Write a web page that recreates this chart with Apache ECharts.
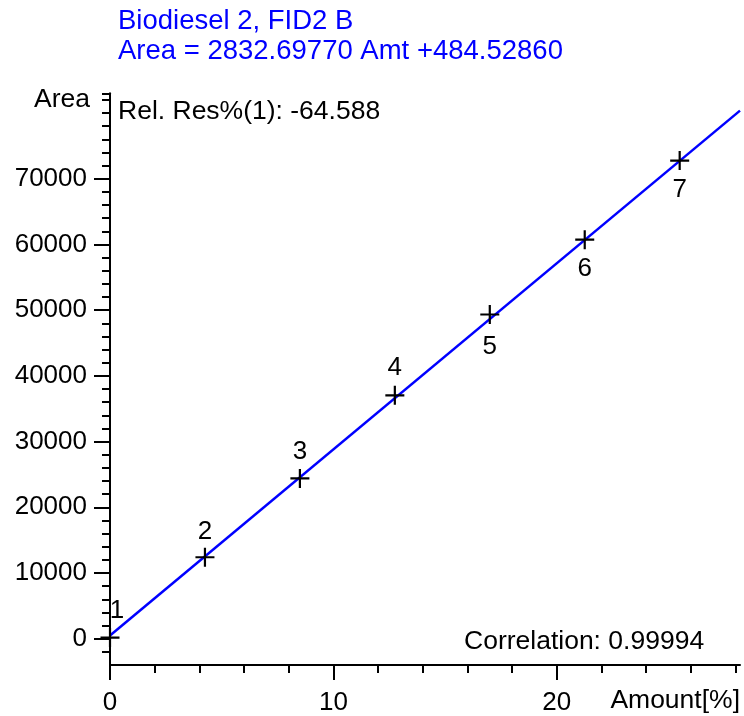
<!DOCTYPE html>
<html>
<head>
<meta charset="utf-8">
<script src="https://cdn.jsdelivr.net/npm/echarts@6/dist/echarts.min.js"></script>
<style>
html,body{margin:0;padding:0;background:#fff;}
#chart{width:744px;height:716px;}
</style>
</head>
<body>
<div id="chart"></div>
<script>
// ---- data ----
const pointIds = ['1', '2', '3', '4', '5', '6', '7'];
const amounts = [0, 4.25, 8.5, 12.75, 17.0, 21.25, 25.5];
const areas = [172, 12400, 24390, 37040, 49340, 60720, 72760];
const fitLineX = [0, 28.2];
const fitLineY = [484.5286, 80366.6];
const xTickLabels = [0, 10, 20];
const xMinorTicks = [2, 4, 6, 8, 12, 14, 16, 18, 22, 24, 26, 28];
const yTickLabels = [0, 10000, 20000, 30000, 40000, 50000, 60000, 70000];
const yMinorTicks = [-2000, 2000, 4000, 6000, 8000, 12000, 14000, 16000, 18000,
  22000, 24000, 26000, 28000, 32000, 34000, 36000, 38000, 42000, 44000, 46000, 48000,
  52000, 54000, 56000, 58000, 62000, 64000, 66000, 68000, 72000, 74000, 76000, 78000,
  80000, 82000, 83000];
const titleLines = ['Biodiesel 2, FID2 B', 'Area = 2832.69770 Amt +484.52860'];
const relResText = 'Rel. Res%(1): -64.588';
const corrText = 'Correlation: 0.99994';

const FONT = "'Liberation Sans', Arial, Helvetica, sans-serif";
const FS_AXIS = 26;
const FS_NOTE = 26.5;
const FS_TITLE = 27.5;

const chart = echarts.init(document.getElementById('chart'), null, {renderer: 'canvas'});

const labelOffsets = [[7, -27], [0, -25], [0, -27], [0, -27], [0, 32], [0, 29], [0, 29]];
const scatterData = amounts.map((a, i) => ({
  value: [a, areas[i]],
  name: pointIds[i],
  label: {
    show: true,
    position: 'inside',
    offset: labelOffsets[i],
    formatter: pointIds[i],
    color: '#000',
    fontFamily: FONT,
    fontSize: FS_AXIS
  }
}));

function textEl(str, pos, centerY, fs, color, align) {
  const el = {
    type: 'text',
    top: centerY - fs / 2 - 1,
    style: {text: str, fill: color, font: fs + 'px ' + FONT}
  };
  if (align === 'right') el.right = pos; else el.left = pos;
  return el;
}

const option = {
  backgroundColor: '#fff',
  animation: false,
  grid: {left: 110, right: 4, top: 93.3, bottom: 49.3, containLabel: false},
  xAxis: [{
    type: 'value', min: 0, max: 28.2,
    axisLine: {show: true, onZero: false, lineStyle: {color: '#000', width: 2}},
    axisTick: {show: true, length: 15, lineStyle: {color: '#000', width: 2}, customValues: xTickLabels},
    axisLabel: {color: '#000', fontFamily: FONT, fontSize: FS_AXIS, margin: 25, customValues: xTickLabels,
      formatter: v => String(v)},
    splitLine: {show: false}
  }, {
    type: 'value', min: 0, max: 28.2, position: 'bottom',
    axisLine: {show: false, onZero: false},
    axisTick: {show: true, length: 8, lineStyle: {color: '#000', width: 2}, customValues: xMinorTicks},
    axisLabel: {show: false},
    splitLine: {show: false}
  }],
  yAxis: [{
    type: 'value', min: -4000, max: 83000,
    axisLine: {show: true, onZero: false, lineStyle: {color: '#000', width: 2}},
    axisTick: {show: true, length: 16, lineStyle: {color: '#000', width: 2}, customValues: yTickLabels},
    axisLabel: {color: '#000', fontFamily: FONT, fontSize: FS_AXIS, margin: 23, customValues: yTickLabels,
      formatter: v => String(v)},
    splitLine: {show: false}
  }, {
    type: 'value', min: -4000, max: 83000, position: 'left',
    axisLine: {show: false, onZero: false},
    axisTick: {show: true, length: 8, lineStyle: {color: '#000', width: 2}, customValues: yMinorTicks},
    axisLabel: {show: false},
    splitLine: {show: false}
  }],
  series: [{
    type: 'line',
    xAxisIndex: 0, yAxisIndex: 0,
    data: fitLineX.map((x, i) => [x, fitLineY[i]]),
    showSymbol: false,
    lineStyle: {color: '#0000ff', width: 2.5},
    z: 2
  }, {
    type: 'scatter',
    xAxisIndex: 0, yAxisIndex: 0,
    data: scatterData,
    symbol: 'path://M0,-10 L0,10 M-10,0 L10,0',
    symbolSize: 19,
    itemStyle: {color: 'none', borderColor: '#000', borderWidth: 2.2, opacity: 1},
    clip: false,
    z: 3
  }],
  graphic: [
    textEl(titleLines[0], 118, 22, FS_TITLE, '#0000ff', 'left'),
    textEl(titleLines[1], 118, 52, FS_TITLE, '#0000ff', 'left'),
    textEl('Area', 654, 100, FS_NOTE, '#000', 'right'),
    textEl(relResText, 118, 112, FS_NOTE, '#000', 'left'),
    textEl(corrText, 464, 642, FS_NOTE, '#000', 'left'),
    textEl('Amount[%]', 4, 701, FS_NOTE, '#000', 'right')
  ]
};
chart.setOption(option);
</script>
</body>
</html>
